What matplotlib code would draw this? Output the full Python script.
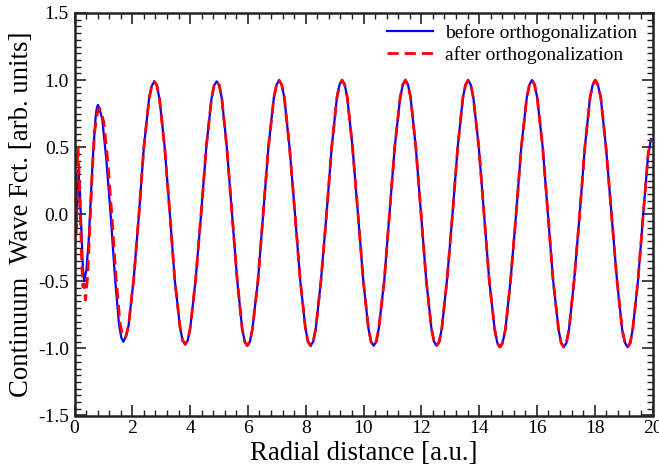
import numpy as np
import matplotlib
matplotlib.use("Agg")
import matplotlib.pyplot as plt
from matplotlib.ticker import MultipleLocator

plt.rcParams['font.family'] = ['Liberation Serif', 'DejaVu Serif']
plt.rcParams['axes.unicode_minus'] = False

# --- data ---
# region near the origin, where the two curves differ
r_before_head = [0.0, 0.04, 0.08, 0.13, 0.18, 0.24, 0.29, 0.33, 0.41, 0.49, 0.57, 0.65,
                 0.73, 0.77, 0.81, 0.86, 0.96, 1.10, 1.25, 1.40, 1.54, 1.62, 1.69]
psi_before_head = [0.0, 0.22, -0.05, 0.33, 0.2, -0.12, -0.40, -0.50, -0.42, -0.2, 0.15, 0.48,
                   0.72, 0.79, 0.815, 0.79, 0.71, 0.41, 0.0, -0.47, -0.82, -0.92, -0.95]

r_after_head = [0.0, 0.03, 0.06, 0.09, 0.12, 0.16, 0.2, 0.25, 0.29, 0.33, 0.38, 0.46, 0.54,
                0.62, 0.70, 0.78, 0.82, 0.865, 0.91, 1.01, 1.15, 1.29, 1.43, 1.57, 1.64, 1.71]
psi_after_head = [-0.38, 0.25, -0.15, 0.35, 0.5, 0.3, 0.0, -0.35, -0.54, -0.52, -0.64, -0.45, -0.05,
                  0.35, 0.62, 0.74, 0.78, 0.79, 0.77, 0.69, 0.4, 0.0, -0.45, -0.8, -0.89, -0.92]

# beyond the first node both curves lie on top of each other
r_tail = [1.78, 1.87, 2.05, 2.23, 2.40, 2.58, 2.67, 2.76,
          2.85, 2.94, 3.12, 3.30, 3.47, 3.65, 3.74, 3.83,
          3.92, 4.01, 4.19, 4.38, 4.56, 4.74, 4.83, 4.92,
          5.01, 5.10, 5.27, 5.45, 5.63, 5.80, 5.89, 5.98,
          6.07, 6.16, 6.35, 6.53, 6.71, 6.90, 6.99, 7.08,
          7.17, 7.26, 7.44, 7.63, 7.81, 7.99, 8.08, 8.17,
          8.26, 8.35, 8.53, 8.72, 8.90, 9.08, 9.17, 9.26,
          9.35, 9.44, 9.62, 9.81, 9.99, 10.17, 10.26, 10.35,
          10.44, 10.53, 10.72, 10.90, 11.08, 11.27, 11.36, 11.45,
          11.54, 11.63, 11.81, 11.99, 12.17, 12.35, 12.44, 12.53,
          12.62, 12.71, 12.89, 13.08, 13.26, 13.44, 13.53, 13.62,
          13.71, 13.80, 13.99, 14.17, 14.35, 14.54, 14.63, 14.72,
          14.81, 14.91, 15.09, 15.28, 15.46, 15.65, 15.74, 15.83,
          15.92, 16.01, 16.20, 16.38, 16.56, 16.75, 16.84, 16.93,
          17.02, 17.11, 17.29, 17.48, 17.66, 17.84, 17.93, 18.02,
          18.11, 18.21, 18.39, 18.58, 18.77, 18.95, 19.05, 19.14,
          19.23, 19.32, 19.50, 19.68, 19.85, 19.95]
psi_tail = [-0.91, -0.83, -0.48, 0.0, 0.5, 0.86, 0.955, 0.99,
            0.96, 0.86, 0.5, 0.0, -0.49, -0.84, -0.94, -0.97,
            -0.94, -0.84, -0.49, 0.0, 0.5, 0.86, 0.96, 0.99,
            0.96, 0.86, 0.5, 0.0, -0.49, -0.85, -0.95, -0.98,
            -0.95, -0.85, -0.49, 0.0, 0.5, 0.87, 0.965, 1.0,
            0.965, 0.87, 0.5, 0.0, -0.49, -0.85, -0.95, -0.98,
            -0.95, -0.85, -0.49, 0.0, 0.5, 0.87, 0.965, 1.0,
            0.965, 0.87, 0.5, 0.0, -0.49, -0.85, -0.95, -0.98,
            -0.95, -0.85, -0.49, 0.0, 0.5, 0.87, 0.965, 1.0,
            0.965, 0.87, 0.5, 0.0, -0.49, -0.85, -0.95, -0.98,
            -0.95, -0.85, -0.49, 0.0, 0.5, 0.87, 0.965, 1.0,
            0.965, 0.87, 0.5, 0.0, -0.49, -0.86, -0.96, -0.99,
            -0.96, -0.86, -0.49, 0.0, 0.5, 0.87, 0.965, 1.0,
            0.965, 0.87, 0.5, 0.0, -0.49, -0.86, -0.96, -0.99,
            -0.96, -0.86, -0.49, 0.0, 0.5, 0.87, 0.965, 1.0,
            0.965, 0.87, 0.5, 0.0, -0.49, -0.86, -0.96, -0.99,
            -0.96, -0.85, -0.49, 0.0, 0.45, 0.56]

r_before = np.array(r_before_head + r_tail)
psi_before = np.array(psi_before_head + psi_tail)
r_after = np.array(r_after_head + r_tail)
psi_after = np.array(psi_after_head + psi_tail)

fig = plt.figure(figsize=(6.59, 4.69), dpi=100)
ax = fig.add_axes([74.5 / 659, 1 - 415.5 / 469, 578 / 659, 402.5 / 469])

ax.plot(r_before, psi_before, color='#0000ff', lw=1.6, label='before orthogonalization')
ax.plot(r_after, psi_after, color='#ff0000', lw=2.0, dashes=(4, 2.2), label='after orthogonalization')

ax.set_xlim(0, 20)
ax.set_ylim(-1.5, 1.5)
ax.xaxis.set_major_locator(MultipleLocator(2))
ax.xaxis.set_minor_locator(MultipleLocator(0.4))
ax.yaxis.set_major_locator(MultipleLocator(0.5))
ax.yaxis.set_minor_locator(MultipleLocator(0.05))
ax.yaxis.set_major_formatter(plt.FormatStrFormatter('%.1f'))

ax.tick_params(which='both', direction='in', top=True, right=True, colors='#222222', labelcolor='black')
ax.tick_params(which='major', length=8, width=1.2, labelsize=14)
ax.tick_params(axis='y', which='major', pad=4)
ax.tick_params(axis='x', which='major', pad=3)
ax.tick_params(which='minor', length=4, width=1.0)
for s in ax.spines.values():
    s.set_linewidth(1.8)
    s.set_color('#222222')

ax.set_xlabel('Radial distance [a.u.]', fontsize=19.3, labelpad=3)
ax.set_ylabel('Continuum  Wave Fct. [arb. units]', fontsize=19.3, labelpad=3)

ax.legend(loc='upper left', bbox_to_anchor=(0.54, 0.973), frameon=False, fontsize=14,
          handlelength=2.4, handletextpad=0.6, borderpad=0, borderaxespad=0, labelspacing=0.2)

fig.savefig('out.png', dpi=100)
